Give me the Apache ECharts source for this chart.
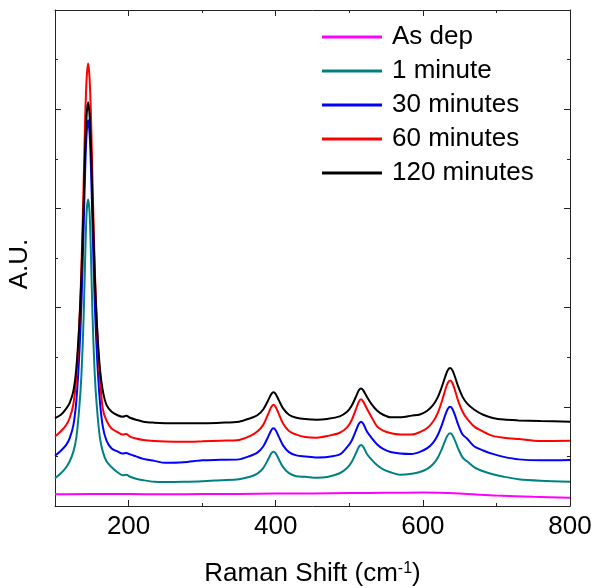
<!DOCTYPE html>
<html>
<head>
<meta charset="utf-8">
<script src="https://cdn.jsdelivr.net/npm/echarts@6/dist/echarts.min.js"></script>
<style>
html,body{margin:0;padding:0;background:#fff;}
#chart{width:594px;height:588px;}
</style>
</head>
<body>
<div id="chart"></div>
<script>
var seriesNames = ['As dep', '1 minute', '30 minutes', '60 minutes', '120 minutes'];
var xTickLabels = [200, 400, 600, 800];
var xMinorTicks = [300, 500, 700];

var ramanShift = [100,108,115,120,125,129,133,136,139,141,143,145,147,149,151,154,157,161,165,170,177,185,192,197,202,210,220,235,250,275,300,325,350,365,375,383,390,394,397,400,404,410,418,428,440,456,470,487,497,503,509,513,516,519,524,530,538,546,556,569,585,596,606,614,620,626,631,634,637,640,644,648,654,660,670,682,695,710,730,760,800];

var asDepShift = [100,150,200,250,300,350,400,450,500,550,600,650,700,750,800];
var asDep = [0.118,0.122,0.12,0.118,0.12,0.122,0.125,0.126,0.13,0.134,0.135,0.125,0.105,0.092,0.083];

var min1 = [0.279,0.33,0.388,0.451,0.548,0.69,0.99,1.33,1.92,2.50,2.96,3.09,2.96,2.50,1.92,1.33,0.99,0.69,0.548,0.45,0.39,0.34,0.31,0.315,0.295,0.275,0.26,0.245,0.243,0.245,0.25,0.26,0.27,0.295,0.326,0.382,0.474,0.53,0.547,0.53,0.474,0.392,0.331,0.30,0.295,0.285,0.293,0.33,0.383,0.44,0.532,0.596,0.615,0.596,0.525,0.47,0.41,0.37,0.34,0.315,0.324,0.342,0.374,0.423,0.484,0.578,0.672,0.716,0.733,0.716,0.654,0.578,0.49,0.45,0.39,0.35,0.32,0.295,0.27,0.255,0.245];

var min30 = [0.507,0.557,0.613,0.685,0.816,1.06,1.526,2.059,2.824,3.39,3.757,3.89,3.757,3.39,2.824,2.059,1.526,1.06,0.80,0.66,0.58,0.55,0.53,0.535,0.52,0.50,0.475,0.455,0.435,0.44,0.46,0.465,0.47,0.504,0.538,0.60,0.702,0.764,0.783,0.764,0.702,0.611,0.543,0.51,0.50,0.49,0.494,0.52,0.593,0.656,0.759,0.829,0.85,0.829,0.75,0.69,0.62,0.575,0.545,0.53,0.525,0.546,0.583,0.64,0.711,0.82,0.929,0.98,1.00,0.98,0.908,0.82,0.72,0.68,0.60,0.56,0.525,0.495,0.47,0.46,0.464];

var min60 = [0.70,0.753,0.814,0.887,1.028,1.298,1.819,2.414,3.27,3.902,4.311,4.46,4.311,3.902,3.27,2.414,1.819,1.298,0.98,0.86,0.78,0.745,0.72,0.725,0.70,0.68,0.665,0.655,0.65,0.648,0.652,0.658,0.665,0.705,0.75,0.818,0.931,0.999,1.02,0.999,0.931,0.831,0.756,0.72,0.695,0.688,0.705,0.738,0.793,0.862,0.975,1.052,1.075,1.052,0.98,0.90,0.80,0.76,0.735,0.72,0.72,0.745,0.787,0.852,0.933,1.059,1.184,1.243,1.265,1.243,1.159,1.059,0.95,0.88,0.80,0.75,0.707,0.689,0.675,0.655,0.658];

var min120 = [0.885,0.92,0.98,1.04,1.16,1.39,1.83,2.34,3.06,3.60,3.94,4.07,3.94,3.60,3.06,2.34,1.83,1.39,1.16,1.02,0.95,0.915,0.90,0.91,0.89,0.87,0.85,0.84,0.835,0.833,0.835,0.84,0.85,0.883,0.915,0.973,1.07,1.128,1.146,1.128,1.07,0.984,0.92,0.89,0.876,0.87,0.878,0.903,0.949,1.007,1.101,1.166,1.185,1.166,1.10,1.03,0.96,0.92,0.895,0.895,0.911,0.923,0.96,1.019,1.092,1.205,1.317,1.37,1.39,1.37,1.295,1.205,1.10,1.035,0.97,0.92,0.888,0.871,0.863,0.856,0.85];

var colors = ['#ff00ff', '#008080', '#0000ff', '#ff0000', '#000000'];

function pairs(xs, ys) { return xs.map(function (x, i) { return [x, ys[i]]; }); }
var seriesData = [pairs(asDepShift, asDep), pairs(ramanShift, min1), pairs(ramanShift, min30), pairs(ramanShift, min60), pairs(ramanShift, min120)];

var axisColor = '#222';
var font = 'Liberation Sans, Arial, sans-serif';

function xAx(pos, major, withLine, extra) {
  var o = {
    type: 'value', min: 100, max: 800, position: pos,
    axisLine: { show: withLine, onZero: false, lineStyle: { color: axisColor, width: 1 } },
    axisTick: { show: true, inside: true, length: major ? 6 : 3, customValues: major ? xTickLabels : xMinorTicks, lineStyle: { color: axisColor, width: 1 } },
    axisLabel: { show: false },
    splitLine: { show: false }
  };
  return Object.assign(o, extra || {});
}

var xAxes = [
  xAx('bottom', true, true, {
    axisLabel: { show: true, customValues: xTickLabels, fontSize: 26, color: '#000', fontFamily: font, margin: 8 },
    name: 'Raman Shift (cm{sup|-1})', nameLocation: 'middle', nameGap: 55,
    nameTextStyle: { fontSize: 26, color: '#000', fontFamily: font, rich: { sup: { fontSize: 16, fontFamily: font, color: '#000', verticalAlign: 'top', lineHeight: 26 } } }
  }),
  xAx('bottom', false, false),
  xAx('top', true, true),
  xAx('top', false, false)
];

function yAx(pos, extra) {
  var o = {
    type: 'value', min: 0, max: 5, interval: 1, position: pos,
    axisLine: { show: true, onZero: false, lineStyle: { color: axisColor, width: 1 } },
    axisTick: { show: true, inside: true, length: 6, lineStyle: { color: axisColor, width: 1 } },
    minorTick: { show: true, splitNumber: 2, length: 3, lineStyle: { color: axisColor, width: 1 } },
    axisLabel: { show: false },
    splitLine: { show: false }, minorSplitLine: { show: false }
  };
  return Object.assign(o, extra || {});
}

var yAxes = [
  yAx('left', { name: 'A.U.', nameLocation: 'middle', nameGap: 22, nameRotate: 90, nameTextStyle: { fontSize: 26, color: '#000', fontFamily: font, padding: [0, 12, 0, 0] } }),
  yAx('right')
];

var chart = echarts.init(document.getElementById('chart'), null, { renderer: 'canvas' });
chart.setOption({
  animation: false,
  backgroundColor: '#fff',
  grid: { left: 55, right: 24, top: 10, bottom: 82, containLabel: false, outerBoundsMode: 'none' },
  xAxis: xAxes,
  yAxis: yAxes,
  legend: {
    data: seriesNames, orient: 'vertical', left: 317, top: 19,
    icon: 'rect', itemWidth: 60, itemHeight: 3, itemGap: 8,
    textStyle: { fontSize: 26, color: '#000', fontFamily: font, lineHeight: 26, padding: [0, 0, 0, 5] }
  },
  series: seriesNames.map(function (n, i) {
    return {
      name: n, type: 'line', xAxisIndex: 0, yAxisIndex: 0,
      data: seriesData[i], showSymbol: false, symbol: 'none',
      smooth: 0.3,
      color: colors[i],
      lineStyle: { color: colors[i], width: 2 },
      itemStyle: { color: colors[i] }
    };
  })
});
</script>
</body>
</html>
